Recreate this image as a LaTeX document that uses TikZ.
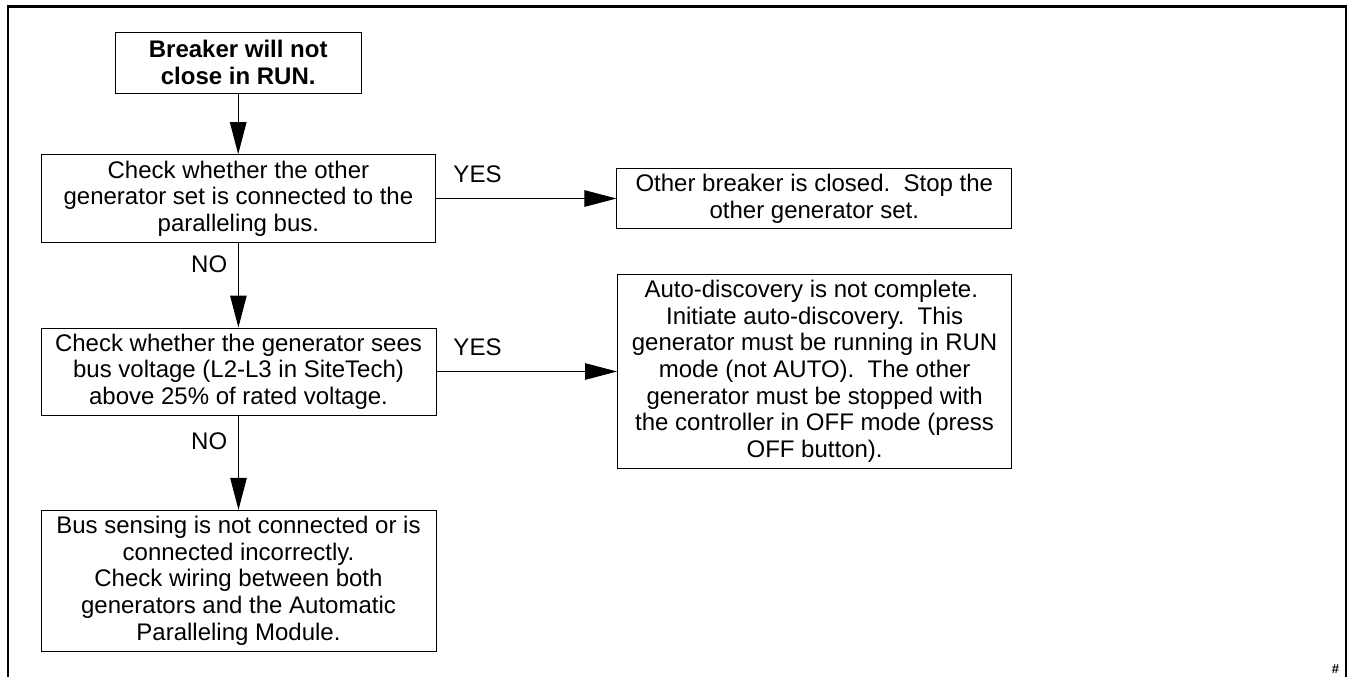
\documentclass[tikz,border=0pt]{standalone}
\usepackage{fontspec}
\setmainfont{Liberation Sans}
\usetikzlibrary{arrows.meta}

\begin{document}
\begin{tikzpicture}[x=1pt,y=-1pt,
  txt/.style={font=\fontsize{24}{26.7}\selectfont},
  box/.style={txt, draw, line width=1pt, align=center, inner sep=0pt},
  lbl/.style={txt, inner sep=0pt},
  flow/.style={line width=1pt, -{Triangle[length=32pt,width=16.5pt]}},
]
\useasboundingbox (0,0) rectangle (1351,677);

% outer frame (open at the bottom edge of the sheet)
\draw[line width=2.4pt] (7.8,677) -- (7.8,6.5) -- (1346.2,6.5) -- (1346.2,677);

% decision chain on the left
\node[box, font=\fontsize{24}{26.7}\selectfont\bfseries,
      minimum width=245.7pt, minimum height=60.7pt] (start) at (238.2,62.7)
  {Breaker will not\\close in RUN.};
\node[box, minimum width=394.7pt, minimum height=87.6pt] (q1) at (238.4,198.5)
  {Check whether the other\\generator set is connected to the\\paralleling bus.};
\node[box, minimum width=395pt, minimum height=87pt] (q2) at (238.5,371.5)
  {Check whether the generator sees\\bus voltage (L2-L3 in SiteTech)\\above 25\% of rated voltage.};
\node[box, minimum width=395pt, minimum height=140.7pt] (fix) at (238.5,580.7)
  {Bus sensing is not connected or is\\connected incorrectly.\\Check wiring between both\\generators and the Automatic\\Paralleling Module.};

% outcomes on the right
\node[box, minimum width=394.7pt, minimum height=60.3pt] (r1) at (814.3,198.8)
  {Other breaker is closed.\ \ Stop the\\other generator set.};
\node[box, minimum width=394.2pt, minimum height=193.7pt] (r2) at (814.6,371.3)
  {Auto-discovery is not complete.\kern6.7pt\\Initiate auto-discovery.\ \ This\\generator must be running in RUN\\mode (not AUTO).\ \ The other\\generator must be stopped with\\the controller in OFF mode (press\\OFF button).};

% connectors
\draw[flow] (start.south) -- (start.south |- q1.north);
\draw[flow] (q1.south) -- (q1.south |- q2.north);
\draw[flow] (q2.south) -- (q2.south |- fix.north);
\draw[flow] (q1.east) -- (q1.east -| r1.west);
\draw[flow] (q2.east) -- (q2.east -| r2.west);

% branch labels
\node[lbl] (yes1) at (477.5,174) {YES};
\node[lbl] (yes2) at (477.5,347.6) {YES};
\node[lbl] (no1) at (209.2,264) {NO};
\node[lbl] (no2) at (209.2,441) {NO};

% sheet mark
\node[inner sep=0pt, font=\fontsize{13}{15}\selectfont\bfseries] (mark) at (1335.5,669.5) {\#};
\end{tikzpicture}
\end{document}
